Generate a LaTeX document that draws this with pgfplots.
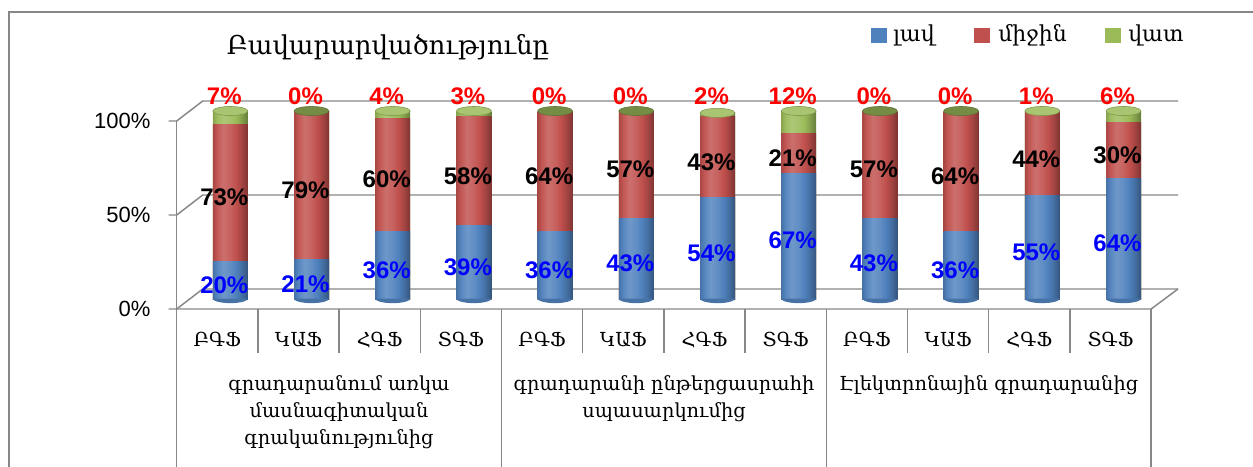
\documentclass[border=0pt]{standalone}
\usepackage{fontspec}
\setmainfont{DejaVu Serif}
\newfontfamily\lib{Liberation Sans}
\usepackage{pgfplots}
\pgfplotsset{compat=1.18}
\usepackage{pgfplotstable}

\definecolor{cB}{HTML}{4F81BD}
\definecolor{cR}{HTML}{C0504D}
\definecolor{cG}{HTML}{9BBB59}
\definecolor{fr}{HTML}{878787}

\newcommand\defcyl[2]{%
  \pgfdeclarehorizontalshading{#1}{100bp}{%
    color(0bp)=(#2!88!black); color(25bp)=(#2!88!black);
    color(31bp)=(#2!96!white); color(40bp)=(#2!82!white);
    color(50bp)=(#2!90!white); color(58bp)=(#2);
    color(66bp)=(#2!86!black); color(75bp)=(#2!66!black);
    color(100bp)=(#2!66!black)}}
\defcyl{cylB}{cB}
\defcyl{cylR}{cR}
\defcyl{cylG}{cG}

\pgfplotstableread{
x b r g cr tot
0 20 73 7 93 100
1 21 79 0 100 100
2 36 60 4 96 100
3 39 58 3 97 100
4 36 64 0 100 100
5 43 57 0 100 100
6 54 43 2 97 99
7 67 21 12 88 100
8 43 57 0 100 100
9 36 64 0 100 100
10 55 44 1 99 100
11 64 30 6 94 100
}\data

\pgfdeclareplotmark{cylell}{%
  \pgfpathellipse{\pgfpointorigin}{\pgfqpoint{13.1pt}{0pt}}{\pgfqpoint{0pt}{3.4pt}}%
  \pgfusepathqfillstroke}
\pgfdeclareplotmark{cylbot}{%
  \pgfpathmoveto{\pgfqpoint{-13.1pt}{0.3pt}}%
  \pgfpatharc{180}{360}{13.1pt and 3.4pt}%
  \pgfpathlineto{\pgfqpoint{13.1pt}{0.3pt}}%
  \pgfpathclose
  \pgfusepathqfill}

\pgfplotsset{
  cyl/.style={ybar, draw=none, shade, bar width=26.25pt, bar shift=0pt,
    xshift=9.75pt, yshift=7.5pt, forget plot},
  lab/.style={draw=none, mark=none, forget plot, xshift=5.25pt, yshift=7.5pt,
    point meta=explicit,
    nodes near coords={\pgfmathprintnumber{\pgfplotspointmeta}\%},
    every node near coord/.append style={anchor=center, inner sep=0pt,
      font=\lib\bfseries\fontsize{18}{18}\selectfont, text=#1}},
}

\begin{document}
\begin{tikzpicture}
\useasboundingbox (0,0) rectangle (939.75pt,-350.25pt);
\clip (0,0) rectangle (939.75pt,-350.25pt);
\begin{scope}[x=0.75pt,y=-0.75pt]
  \tikzset{gl/.style={draw=fr, line width=1.1pt}}
  \draw[fr, line width=1.5pt] (8.5,12.5) rectangle (1300,520);
  \foreach \v in {0,50,100}{%
    \pgfmathsetmacro\yf{309-1.88*\v}
    \pgfmathsetmacro\yb{\yf-20}
    \draw[gl] (168.7,\yf) -- (176.7,\yf) -- (202.7,\yb) -- (1178,\yb);
  }
  \draw[gl] (176.7,121) -- (176.7,520);
  \draw[gl] (176.7,309) -- (1151.1,309) -- (1178,289);
  \foreach \i in {1,2,3,5,6,7,9,10,11} \draw[gl] ({176.7+81.2*\i},309) -- ++(0,44);
  \foreach \i in {4,8,12} \draw[gl] ({176.7+81.2*\i},309) -- ({176.7+81.2*\i},520);
  % title
  \node[font=\fontsize{19.5}{19.5}\selectfont] at (388,47) {Բավարարվածությունը};
  % legend
  \fill[cB] (870.7,28) rectangle (886.7,43);
  \node[anchor=west, inner sep=0pt, font=\fontsize{16.5}{16.5}\selectfont] at (893,35) {լավ};
  \fill[cR] (974,28) rectangle (990,43);
  \node[anchor=west, inner sep=0pt, font=\fontsize{16.5}{16.5}\selectfont] at (998,35) {միջին};
  \fill[cG] (1105,28) rectangle (1121,43);
  \node[anchor=west, inner sep=0pt, font=\fontsize{16.5}{16.5}\selectfont] at (1128,35) {վատ};
  % group labels
  \tikzset{gr/.style={font=\fontsize{14.5}{14.5}\selectfont, inner sep=0pt}}
  \node[gr] at (339,385) {գրադարանում առկա};
  \node[gr] at (339,412) {մասնագիտական};
  \node[gr] at (339,439) {գրականությունից};
  \node[gr] at (664,385) {գրադարանի ընթերցասրահի};
  \node[gr] at (664,412) {սպասարկումից};
  \node[gr] at (988.7,385) {Էլեկտրոնային գրադարանից};
\end{scope}

\begin{axis}[
  at={(132.525pt,-231.75pt)}, anchor=south west,
  scale only axis, width=730.8pt, height=141pt,
  xmin=-0.5, xmax=11.5, ymin=0, ymax=100,
  clip=false,
  axis line style={draw=none},
  tick style={draw=none}, major tick length=0pt,
  /pgf/number format/assume math mode=true,
  ytick={0,50,100}, yticklabels={0\%,50\%,100\%},
  yticklabel style={anchor=east, inner sep=0pt, xshift=-19.5pt,
    font=\lib\fontsize{16.5}{16.5}\selectfont},
  xtick={0,...,11},
  xticklabels={ԲԳՖ,ԿԱՖ,ՀԳՖ,ՏԳՖ,ԲԳՖ,ԿԱՖ,ՀԳՖ,ՏԳՖ,ԲԳՖ,ԿԱՖ,ՀԳՖ,ՏԳՖ},
  xticklabel style={anchor=center, inner sep=0pt, yshift=-23pt,
    font=\fontsize{14.5}{14.5}\selectfont},
]
  % cylinders: one shaded bar per category and segment (cumulative overlay)
  \pgfplotsinvokeforeach{0,...,11}{%
    \addplot[cyl, shading=cylG, restrict x to domain=#1:#1] table[x=x,y=tot]{\data};
    \addplot[cyl, shading=cylR, restrict x to domain=#1:#1] table[x=x,y=cr]{\data};
    \addplot[cyl, shading=cylB, restrict x to domain=#1:#1] table[x=x,y=b]{\data};
  }
  % bottom half ellipse
  \addplot[only marks, mark=cylbot, forget plot, xshift=9.75pt, yshift=7.5pt,
    mark options={fill=cB!88!black, draw=none}] table[x=x, y expr=0]{\data};
  % top ellipses
  \addplot[only marks, mark=cylell, forget plot, xshift=9.75pt, yshift=7.5pt,
    mark options={fill=cG!85!white, draw=cG!80!black, line width=0.4pt}]
    coordinates {(0,100) (2,100) (3,100) (6,99) (7,100) (10,100) (11,100)};
  \addplot[only marks, mark=cylell, forget plot, xshift=9.75pt, yshift=7.5pt,
    mark options={fill=cG!75!black, draw=cG!60!black, line width=0.4pt}]
    coordinates {(1,100) (4,100) (5,100) (8,100) (9,100)};
  % labels
  \addplot[lab=blue] table[x=x, y expr=\thisrow{b}/2-2.5, meta=b]{\data};
  \addplot[lab=black] table[x=x, y expr=\thisrow{b}+\thisrow{r}/2-2.5, meta=r]{\data};
  \addplot[lab=red] table[x=x, y expr=108, meta=g]{\data};
\end{axis}
\end{tikzpicture}
\end{document}
